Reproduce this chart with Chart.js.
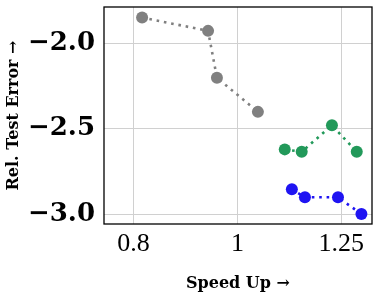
<!DOCTYPE html>
<html>
<head>
<meta charset="utf-8">
<script src="https://cdn.jsdelivr.net/npm/chart.js@4/dist/chart.umd.min.js"></script>
<style>
  html, body { margin: 0; padding: 0; background: #fff; }
  #wrap { width: 379px; height: 296px; }
</style>
</head>
<body>
<div id="wrap"><canvas id="chart"></canvas></div>
<script>
// ===== Data =====
const grayX  = [0.815, 0.939, 0.957, 1.045];
const grayY  = [-1.848, -1.926, -2.201, -2.401];
const greenX = [1.107, 1.148, 1.225, 1.292];
const greenY = [-2.621, -2.635, -2.480, -2.635];
const blueX  = [1.124, 1.156, 1.241, 1.305];
const blueY  = [-2.855, -2.902, -2.902, -3.000];

const xTicks = [0.8, 1, 1.25];
const yTicks = [-3.0, -2.5, -2.0];

const toPoints = (xs, ys) => xs.map((x, i) => ({ x, y: ys[i] }));

function series(xs, ys, color) {
  return {
    data: toPoints(xs, ys),
    borderColor: color,
    backgroundColor: color,
    pointBackgroundColor: color,
    pointBorderWidth: 0,
    pointRadius: 6,
    borderWidth: 2.6,
    borderDash: [2.6, 4.8],
    showLine: true,
    tension: 0
  };
}

// black frame round the plot area
const frame = {
  id: 'frame',
  afterDraw(chart) {
    const { ctx, chartArea: a } = chart;
    ctx.save();
    ctx.strokeStyle = '#000';
    ctx.lineWidth = 1.3;
    ctx.strokeRect(a.left, a.top, a.right - a.left, a.bottom - a.top);
    ctx.restore();
  }
};

new Chart(document.getElementById('chart'), {
  type: 'scatter',
  data: {
    datasets: [
      series(grayX, grayY, '#808080'),
      series(greenX, greenY, '#22995a'),
      series(blueX, blueY, '#1f14f2')
    ]
  },
  options: {
    responsive: true,
    maintainAspectRatio: false,
    animation: false,
    layout: { padding: { top: 7, right: 7, left: 0, bottom: 0 } },
    plugins: { legend: { display: false }, tooltip: { enabled: false } },
    scales: {
      x: {
        type: 'logarithmic',
        min: 0.751,
        max: 1.335,
        afterBuildTicks: s => { s.ticks = xTicks.map(v => ({ value: v })); },
        afterFit: s => { s.height = 72; s.paddingLeft = 0; s.paddingRight = 0; },
        grid: { color: '#d0d0d0', drawTicks: false },
        border: { display: false },
        ticks: {
          padding: 5,
          color: '#000',
          font: { family: 'Liberation Serif', size: 26 },
          callback: v => String(v)
        },
        title: {
          display: true,
          text: 'Speed Up →',
          color: '#000',
          padding: { bottom: 3 },
          font: { family: 'DejaVu Serif', size: 16, weight: 'bold' }
        }
      },
      y: {
        min: -3.0586,
        max: -1.786,
        afterBuildTicks: s => { s.ticks = yTicks.map(v => ({ value: v })); },
        afterFit: s => { s.width = 104; s.paddingTop = 0; s.paddingBottom = 0; },
        grid: { color: '#d0d0d0', drawTicks: false },
        border: { display: false },
        ticks: {
          padding: 9,
          color: '#000',
          font: { family: 'DejaVu Serif', size: 26, weight: 'bold' },
          callback: v => '\u2212' + Math.abs(v).toFixed(1)
        },
        title: {
          display: true,
          text: 'Rel. Test Error →',
          color: '#000',
          padding: { top: 4 },
          font: { family: 'DejaVu Serif', size: 16, weight: 'bold' }
        }
      }
    }
  },
  plugins: [frame]
});
</script>
</body>
</html>
